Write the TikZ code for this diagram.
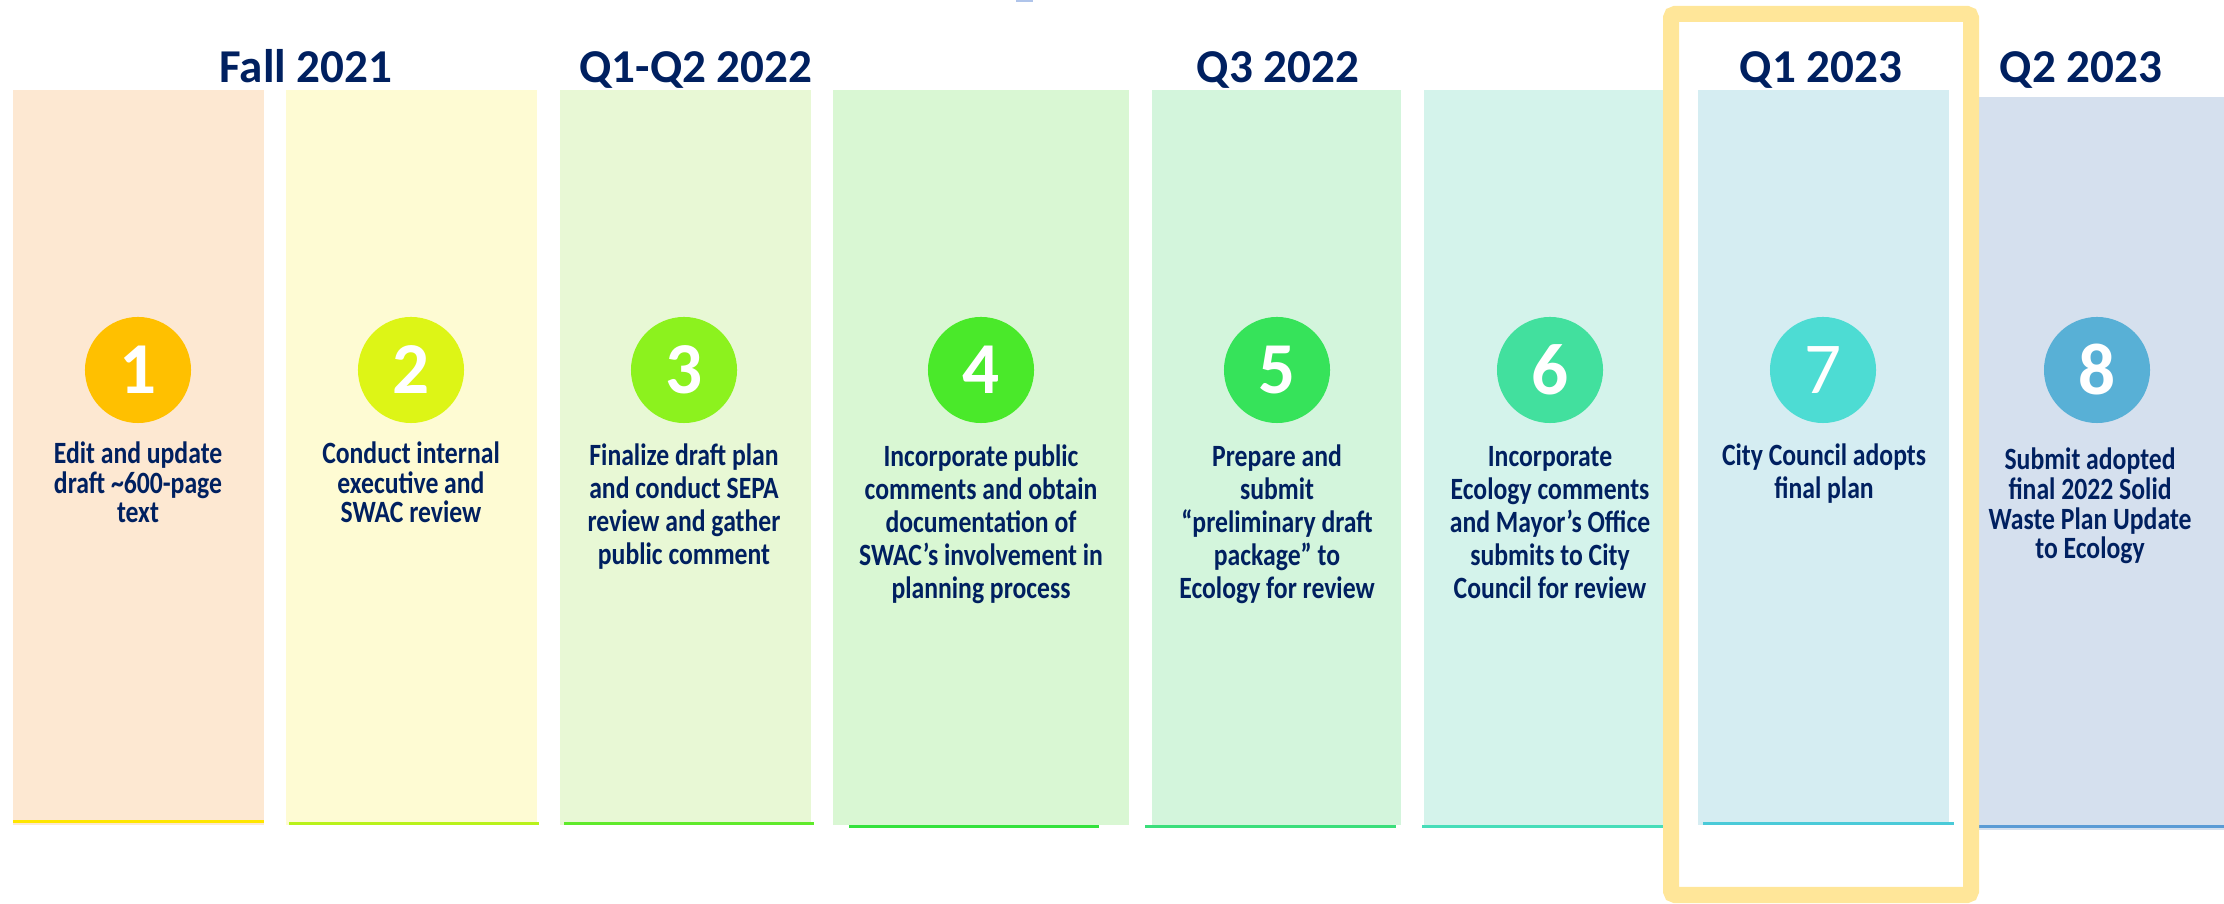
\documentclass[tikz,border=0pt]{standalone}
\usepackage{fontspec}
\setmainfont{Carlito}
\newfontfamily\stepfont[FakeStretch=0.83]{Carlito}

% column fills
\definecolor{bar1}{RGB}{253,232,210}
\definecolor{bar2}{RGB}{254,251,211}
\definecolor{bar3}{RGB}{232,248,213}
\definecolor{bar4}{RGB}{217,247,211}
\definecolor{bar5}{RGB}{211,245,220}
\definecolor{bar6}{RGB}{212,243,235}
\definecolor{bar7}{RGB}{213,237,242}
\definecolor{bar8}{RGB}{213,224,238}
% circles
\definecolor{dot1}{RGB}{255,192,0}
\definecolor{dot2}{RGB}{221,245,22}
\definecolor{dot3}{RGB}{140,242,30}
\definecolor{dot4}{RGB}{74,233,42}
\definecolor{dot5}{RGB}{54,227,90}
\definecolor{dot6}{RGB}{66,224,158}
\definecolor{dot7}{RGB}{77,220,211}
\definecolor{dot8}{RGB}{88,176,214}
% bottom lines
\definecolor{line1}{RGB}{255,230,0}
\definecolor{line2}{RGB}{184,242,26}
\definecolor{line3}{RGB}{95,234,43}
\definecolor{line4}{RGB}{52,226,60}
\definecolor{line5}{RGB}{59,222,123}
\definecolor{line6}{RGB}{71,221,185}
\definecolor{line7}{RGB}{74,202,216}
\definecolor{line8}{RGB}{90,155,213}
\definecolor{navy}{RGB}{0,32,96}
\definecolor{frame}{RGB}{255,230,153}
\definecolor{tickblue}{RGB}{175,196,234}

\begin{document}
\begin{tikzpicture}[x=0.01cm, y=-0.01cm,
    quarter/.style={font=\bfseries\fontsize{13.4}{16}\selectfont, text=navy,
      anchor=base, inner sep=0pt},
    stepcircle/.style={circle, minimum size=1.06cm, inner sep=0pt, text=white,
      font=\bfseries\fontsize{20.8}{24}\selectfont},
    steptext/.style={font=\stepfont\bfseries\fontsize{8.8}{9.4}\selectfont,
      text=navy, align=center, anchor=base, inner sep=0pt},
    steptight/.style={steptext, font=\stepfont\bfseries\fontsize{8.8}{8.5}\selectfont}]

    \useasboundingbox (0,0) rectangle (2224,904);
    \fill[tickblue] (1016,0) rectangle (1033,2);

    % columns
    \fill[bar1] (13,90)   rectangle (264,825);
    \fill[bar2] (286,90)  rectangle (537,825);
    \fill[bar3] (560,90)  rectangle (811,825);
    \fill[bar4] (833,90)  rectangle (1129,825);
    \fill[bar5] (1152,90) rectangle (1401,825);
    \fill[bar6] (1424,90) rectangle (1670,825);
    \fill[bar7] (1698,90) rectangle (1949,825);
    \fill[bar8] (1979,97) rectangle (2224,830);

    \fill[line1] (13,820)   rectangle (264,823);
    \fill[line2] (289,822)  rectangle (539,825);
    \fill[line3] (564,822)  rectangle (814,825);
    \fill[line4] (849,825)  rectangle (1099,828);
    \fill[line5] (1145,825) rectangle (1396,828);
    \fill[line6] (1422,825) rectangle (1665,828);
    \fill[line7] (1703,822) rectangle (1954,825);
    \fill[line8] (1979,825) rectangle (2224,828);

    % highlight round the current quarter
    \draw[frame, line width=0.16cm, rounded corners=0.04cm] (1671,14) rectangle (1971,895);

    \node[quarter] (fall21) at (306,83)  {Fall 2021};
    \node[quarter] (q1q222) at (696,83)  {Q1-Q2 2022};
    \node[quarter] (q322)   at (1278,83) {Q3 2022};
    \node[quarter] (q123)   at (1821,83) {Q1 2023};
    \node[quarter] (q223)   at (2081,83) {Q2 2023};

    \node[stepcircle, fill=dot1] (n1) at (138,370)  {1};
    \node[stepcircle, fill=dot2] (n2) at (411,370)  {2};
    \node[stepcircle, fill=dot3] (n3) at (684,370)  {3};
    \node[stepcircle, fill=dot4] (n4) at (981,370)  {4};
    \node[stepcircle, fill=dot5] (n5) at (1277,370) {5};
    \node[stepcircle, fill=dot6] (n6) at (1550,370) {6};
    \node[stepcircle, fill=dot7, font=\fontsize{20.8}{24}\selectfont] (n7) at (1823,370) {7};
    \node[stepcircle, fill=dot8] (n8) at (2097,370) {8};

    % base sits on the last line of each text
    \node[steptight] (t1) at (138,523) {Edit and update\\draft \textasciitilde600-page\\text};
    \node[steptight] (t2) at (411,523) {Conduct internal\\executive and\\SWAC review};
    \node[steptext] (t3) at (684,565) {Finalize draft plan\\and conduct SEPA\\review and gather\\public comment};
    \node[steptext] (t4) at (981,599) {Incorporate public\\comments and obtain\\documentation of\\SWAC’s involvement in\\planning process};
    \node[steptext] (t5) at (1277,599) {Prepare and\\submit\\“preliminary draft\\package” to\\Ecology for review};
    \node[steptext] (t6) at (1550,599) {Incorporate\\Ecology comments\\and Mayor’s Office\\submits to City\\Council for review};
    \node[steptext] (t7) at (1824,499) {City Council adopts\\final plan};
    \node[steptight] (t8) at (2090,559) {Submit adopted\\final 2022 Solid\\Waste Plan Update\\to Ecology};

\end{tikzpicture}
\end{document}
